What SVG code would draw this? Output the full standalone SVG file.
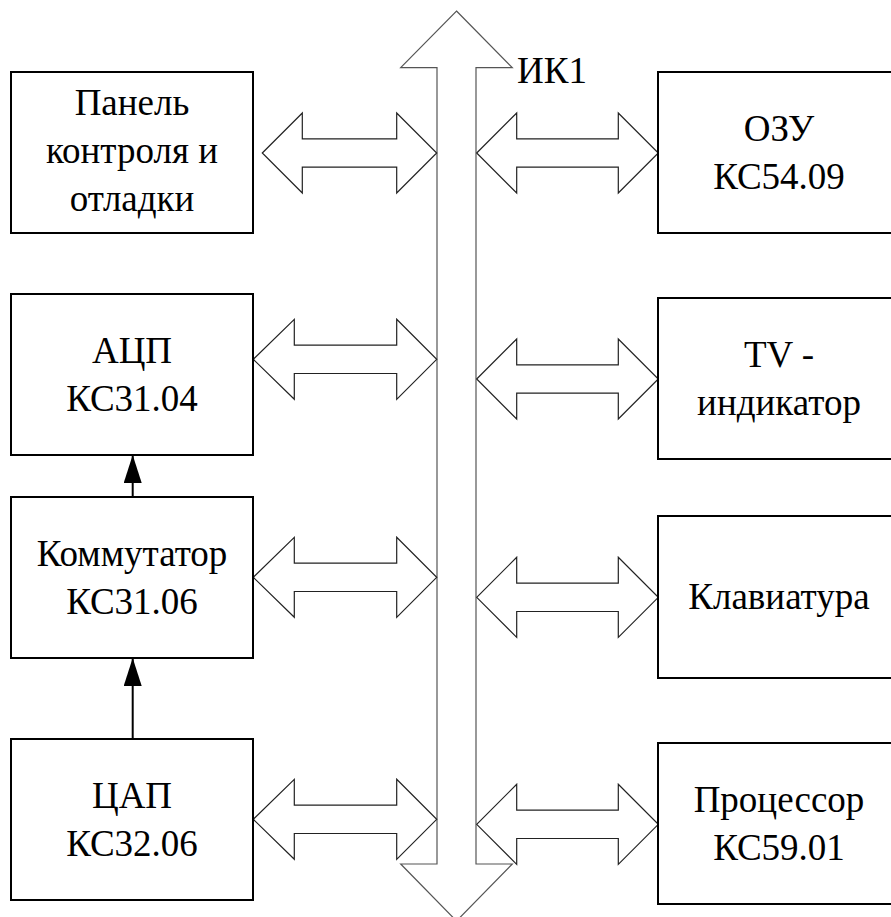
<svg xmlns="http://www.w3.org/2000/svg" width="891" height="917" viewBox="0 0 891 917">
<style>
.box{fill:#fff;stroke:#000;stroke-width:2}
.t{font-family:"Liberation Serif","Times New Roman",serif;font-size:37px;fill:#000;text-anchor:middle}
.bus{fill:#fff;stroke:#555;stroke-width:1.2}
.dbl{fill:#fff;stroke:#222;stroke-width:1.2}
.ln{stroke:#000;stroke-width:2;fill:none}
</style>
<defs>
<marker id="ah" viewBox="0 0 28 18" refX="28" refY="9" markerWidth="28" markerHeight="18" markerUnits="userSpaceOnUse" orient="auto">
<path d="M0,0 L28,9 L0,18 Z" fill="#000"/>
</marker>
</defs>
<g id="bus">
<polygon class="bus" points="456.5,11 512.3,67.7 476,67.7 476,864 512.3,864 456.5,921 400.7,864 437,864 437,67.7 400.7,67.7"/>
<text class="t" x="517" y="83" style="text-anchor:start">ИК1</text>
</g>
<g id="connectors">
<polygon class="dbl" points="262.3,153 302.3,113 302.3,138.8 396.7,138.8 396.7,113 436.7,153 396.7,193 396.7,167.2 302.3,167.2 302.3,193"/>
<polygon class="dbl" points="253.3,359.3 294.3,319.3 294.3,345.1 396.7,345.1 396.7,319.3 436.7,359.3 396.7,399.3 396.7,373.5 294.3,373.5 294.3,399.3"/>
<polygon class="dbl" points="253.3,577.3 294.3,537.3 294.3,563.1 396.7,563.1 396.7,537.3 436.7,577.3 396.7,617.3 396.7,591.5 294.3,591.5 294.3,617.3"/>
<polygon class="dbl" points="253.3,819.3 294.3,779.3 294.3,805.1 396.7,805.1 396.7,779.3 436.7,819.3 396.7,859.3 396.7,833.5 294.3,833.5 294.3,859.3"/>
<polygon class="dbl" points="476.7,153 516.7,113 516.7,138.8 618.3,138.8 618.3,113 658.3,153 618.3,193 618.3,167.2 516.7,167.2 516.7,193"/>
<polygon class="dbl" points="476.7,379 516.7,339 516.7,364.8 618.3,364.8 618.3,339 658.3,379 618.3,419 618.3,393.2 516.7,393.2 516.7,419"/>
<polygon class="dbl" points="476.7,597.3 516.7,557.3 516.7,583.1 618.3,583.1 618.3,557.3 658.3,597.3 618.3,637.3 618.3,611.5 516.7,611.5 516.7,637.3"/>
<polygon class="dbl" points="476.7,824.3 516.7,784.3 516.7,810.1 618.3,810.1 618.3,784.3 658.3,824.3 618.3,864.3 618.3,838.5 516.7,838.5 516.7,864.3"/>
<line class="ln" x1="132.7" y1="497" x2="132.7" y2="455" marker-end="url(#ah)"/>
<line class="ln" x1="132.7" y1="739" x2="132.7" y2="658" marker-end="url(#ah)"/>
</g>
<g id="panel">
<rect class="box" x="11" y="72" width="242" height="161"/>
<text class="t" x="132" y="115">Панель</text>
<text class="t" x="132" y="163">контроля и</text>
<text class="t" x="132" y="211">отладки</text>
</g>
<g id="adc">
<rect class="box" x="11" y="294" width="242" height="161"/>
<text class="t" x="132" y="362.5">АЦП</text>
<text class="t" x="132" y="410.5">КС31.04</text>
</g>
<g id="switch">
<rect class="box" x="11" y="497" width="242" height="161"/>
<text class="t" x="132" y="565.5">Коммутатор</text>
<text class="t" x="132" y="613.5">КС31.06</text>
</g>
<g id="dac">
<rect class="box" x="11" y="739" width="242" height="161"/>
<text class="t" x="132" y="807.5">ЦАП</text>
<text class="t" x="132" y="855.5">КС32.06</text>
</g>
<g id="ram">
<rect class="box" x="658" y="72" width="242" height="161"/>
<text class="t" x="779" y="140.5">ОЗУ</text>
<text class="t" x="779" y="188.5">КС54.09</text>
</g>
<g id="tv">
<rect class="box" x="658" y="298" width="242" height="161"/>
<text class="t" x="779" y="366.5">TV -</text>
<text class="t" x="779" y="414.5">индикатор</text>
</g>
<g id="keyboard">
<rect class="box" x="658" y="516" width="242" height="162"/>
<text class="t" x="779" y="609">Клавиатура</text>
</g>
<g id="cpu">
<rect class="box" x="658" y="743" width="242" height="161"/>
<text class="t" x="779" y="811.5">Процессор</text>
<text class="t" x="779" y="859.5">КС59.01</text>
</g>
</svg>
